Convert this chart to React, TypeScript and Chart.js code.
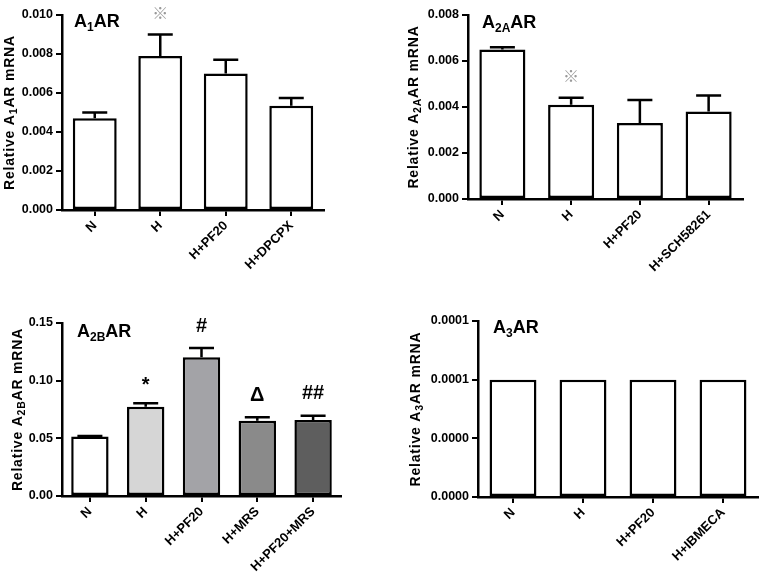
import React, { useEffect, useRef } from 'react';
import { Chart, registerables } from 'chart.js';

Chart.register(...registerables);

const FONT = '"Liberation Sans", Arial, Helvetica, sans-serif';

// ---------- Data ----------
// A1AR
const A1_CATEGORIES = ['N', 'H', 'H+PF20', 'H+DPCPX'];
const A1_VALUES = [0.0047, 0.0079, 0.007, 0.00535];
const A1_ERRORS = [0.0003, 0.0011, 0.0007, 0.0004];
const A1_MARKS = ['', '※', '', ''];
const A1_TICKS = [0, 0.002, 0.004, 0.006, 0.008, 0.01];
const A1_TICK_LABELS = ['0.000', '0.002', '0.004', '0.006', '0.008', '0.010'];

// A2AAR
const A2A_CATEGORIES = ['N', 'H', 'H+PF20', 'H+SCH58261'];
const A2A_VALUES = [0.0065, 0.0041, 0.0033, 0.0038];
const A2A_ERRORS = [0.0001, 0.0003, 0.001, 0.0007];
const A2A_MARKS = ['', '※', '', ''];
const A2A_TICKS = [0, 0.002, 0.004, 0.006, 0.008];
const A2A_TICK_LABELS = ['0.000', '0.002', '0.004', '0.006', '0.008'];

// A2BAR
const A2B_CATEGORIES = ['N', 'H', 'H+PF20', 'H+MRS', 'H+PF20+MRS'];
const A2B_VALUES = [0.0515, 0.0774, 0.1203, 0.0652, 0.0658];
const A2B_ERRORS = [0.0006, 0.003, 0.008, 0.003, 0.0038];
const A2B_MARKS = ['', '*', '#', 'Δ', '##'];
const A2B_TICKS = [0, 0.05, 0.1, 0.15];
const A2B_TICK_LABELS = ['0.00', '0.05', '0.10', '0.15'];

// A3AR
const A3_CATEGORIES = ['N', 'H', 'H+PF20', 'H+IBMECA'];
const A3_VALUES = [0.0001, 0.0001, 0.0001, 0.0001];
const A3_ERRORS = [0, 0, 0, 0];
const A3_MARKS = ['', '', '', ''];
const A3_TICKS = [0, 0.00005, 0.0001, 0.00015];
const A3_TICK_LABELS = ['0.0000', '0.0000', '0.0001', '0.0001'];

type Seg = { t: string; sub?: boolean };

interface PanelSpec {
  left: number;
  top: number;
  width: number;
  height: number;
  area: { l: number; r: number; t: number; b: number };
  categories: string[];
  values: number[];
  errors: number[];
  marks: string[];
  colors: string[];
  tickValues: number[];
  tickLabels: string[];
  title: Seg[];
  titleX: number;
  label: Seg[];
  labelX: number;
  labelY: number;
}

function drawRich(
  ctx: CanvasRenderingContext2D,
  segs: Seg[],
  x: number,
  y: number,
  size: number,
  subSize: number,
  subShift: number,
  centered: boolean,
  spacing: string
) {
  const font = (s: number) => `bold ${s}px ${FONT}`;
  (ctx as any).letterSpacing = spacing;
  let total = 0;
  const widths = segs.map((s) => {
    ctx.font = font(s.sub ? subSize : size);
    const w = ctx.measureText(s.t).width;
    total += w;
    return w;
  });
  let cx = centered ? x - total / 2 : x;
  segs.forEach((s, i) => {
    ctx.font = font(s.sub ? subSize : size);
    ctx.fillText(s.t, cx, y + (s.sub ? subShift : 0));
    cx += widths[i];
  });
  (ctx as any).letterSpacing = '0px';
}

function makeDecor(spec: PanelSpec) {
  return {
    id: 'decor',
    afterDatasetsDraw(chart: any) {
      const { ctx, chartArea } = chart;
      const meta = chart.getDatasetMeta(0);
      const ys = chart.scales.y;
      ctx.save();
      // error bars
      ctx.strokeStyle = '#000';
      ctx.lineWidth = 2.5;
      spec.errors.forEach((e, i) => {
        if (!e) return;
        const x = meta.data[i].x;
        const y0 = ys.getPixelForValue(spec.values[i]);
        const y1 = ys.getPixelForValue(spec.values[i] + e);
        ctx.beginPath();
        ctx.moveTo(x, y0);
        ctx.lineTo(x, y1);
        ctx.moveTo(x - 12.5, y1);
        ctx.lineTo(x + 12.5, y1);
        ctx.stroke();
      });
      // significance marks
      ctx.textAlign = 'center';
      ctx.textBaseline = 'middle';
      spec.marks.forEach((m, i) => {
        if (!m) return;
        const x = meta.data[i].x;
        const yTop = ys.getPixelForValue(spec.values[i] + spec.errors[i]);
        let y = yTop - 22;
        if (m === '※') {
          ctx.font = `16px "Noto Sans CJK SC", "DejaVu Sans", sans-serif`;
          ctx.fillStyle = '#9a9a9a';
        } else {
          ctx.font = `bold 20px ${FONT}`;
          ctx.fillStyle = '#000';
          if (m === '*') y += 4;
        }
        ctx.fillText(m, x, y);
      });
      // y-axis title (rotated)
      ctx.fillStyle = '#000';
      ctx.save();
      ctx.translate(spec.titleX, (chartArea.top + chartArea.bottom) / 2);
      ctx.rotate(-Math.PI / 2);
      ctx.textAlign = 'left';
      ctx.textBaseline = 'middle';
      drawRich(ctx, spec.title, 0, 0, 14, 10.5, 4, true, '0.8px');
      ctx.restore();
      // panel label
      ctx.textAlign = 'left';
      ctx.textBaseline = 'alphabetic';
      drawRich(ctx, spec.label, spec.labelX, spec.labelY, 18, 12, 4, false, '0px');
      ctx.restore();
    },
  };
}

const tickFont = { family: FONT, size: 12.5, weight: 'bold' as const };

function Panel({ spec }: { spec: PanelSpec }) {
  const ref = useRef<HTMLCanvasElement | null>(null);
  useEffect(() => {
    if (!ref.current) return;
    const { area, width, height } = spec;
    const gridCommon = {
      drawOnChartArea: false,
      drawTicks: true,
      tickLength: 6,
      color: '#000',
      lineWidth: 2,
    };
    const chart = new Chart(ref.current, {
      type: 'bar',
      data: {
        labels: spec.categories,
        datasets: [
          {
            data: spec.values,
            backgroundColor: spec.colors,
            borderColor: '#000',
            borderWidth: 2.5,
            borderSkipped: false,
            barPercentage: 0.67,
            categoryPercentage: 1,
          },
        ],
      },
      options: {
        responsive: false,
        animation: false,
        events: [],
        layout: { padding: { left: 0, top: area.t, right: width - area.r, bottom: 0 } },
        plugins: { legend: { display: false }, tooltip: { enabled: false } },
        scales: {
          x: {
            type: 'category',
            offset: true,
            grid: { ...gridCommon, offset: false },
            border: { color: '#000', width: 2.5 },
            ticks: {
              font: { family: FONT, size: 13, weight: 'bold' },
              color: '#000',
              maxRotation: 45,
              minRotation: 45,
              autoSkip: false,
              padding: 2,
            },
            afterFit: (s: any) => {
              s.height = height - area.b;
            },
          },
          y: {
            min: spec.tickValues[0],
            max: spec.tickValues[spec.tickValues.length - 1],
            afterBuildTicks: (s: any) => {
              s.ticks = spec.tickValues.map((v) => ({ value: v }));
            },
            grid: gridCommon,
            border: { color: '#000', width: 2.5 },
            ticks: {
              font: tickFont,
              color: '#000',
              padding: 3,
              callback: (_v: any, i: number) => spec.tickLabels[i],
            },
            afterFit: (s: any) => {
              s.width = area.l;
            },
          },
        },
      } as any,
      plugins: [makeDecor(spec)],
    });
    return () => chart.destroy();
  }, [spec]);
  return (
    <canvas
      ref={ref}
      width={spec.width}
      height={spec.height}
      style={{
        position: 'absolute',
        left: spec.left,
        top: spec.top,
        width: spec.width,
        height: spec.height,
      }}
    />
  );
}

const title = (sub: string): Seg[] => [{ t: 'Relative A' }, { t: sub, sub: true }, { t: 'AR mRNA' }];
const label = (sub: string): Seg[] => [{ t: 'A' }, { t: sub, sub: true }, { t: 'AR' }];

const white = (n: number) => Array(n).fill('#ffffff');

const PANELS: PanelSpec[] = [
  {
    left: 0, top: 0, width: 382, height: 288,
    area: { l: 62, r: 324, t: 15, b: 210 },
    categories: A1_CATEGORIES, values: A1_VALUES, errors: A1_ERRORS, marks: A1_MARKS,
    colors: white(4), tickValues: A1_TICKS, tickLabels: A1_TICK_LABELS,
    title: title('1'), titleX: 10, label: label('1'), labelX: 74, labelY: 27,
  },
  {
    left: 382, top: 0, width: 382, height: 288,
    area: { l: 86, r: 361, t: 15, b: 199 },
    categories: A2A_CATEGORIES, values: A2A_VALUES, errors: A2A_ERRORS, marks: A2A_MARKS,
    colors: white(4), tickValues: A2A_TICKS, tickLabels: A2A_TICK_LABELS,
    title: title('2A'), titleX: 32, label: label('2A'), labelX: 100, labelY: 28,
  },
  {
    left: 0, top: 288, width: 382, height: 289,
    area: { l: 62, r: 341, t: 35, b: 208 },
    categories: A2B_CATEGORIES, values: A2B_VALUES, errors: A2B_ERRORS, marks: A2B_MARKS,
    colors: ['#ffffff', '#d6d6d6', '#a3a3a7', '#8a8a8a', '#5e5e5e'],
    tickValues: A2B_TICKS, tickLabels: A2B_TICK_LABELS,
    title: title('2B'), titleX: 18, label: label('2B'), labelX: 77, labelY: 49,
  },
  {
    left: 382, top: 288, width: 382, height: 289,
    area: { l: 96, r: 376, t: 33, b: 209 },
    categories: A3_CATEGORIES, values: A3_VALUES, errors: A3_ERRORS, marks: A3_MARKS,
    colors: white(4), tickValues: A3_TICKS, tickLabels: A3_TICK_LABELS,
    title: title('3'), titleX: 34, label: label('3'), labelX: 111, labelY: 45,
  },
];

export default function App() {
  return (
    <div
      style={{
        position: 'absolute',
        left: 0,
        top: 0,
        width: 764,
        height: 577,
        background: '#ffffff',
        overflow: 'hidden',
      }}
    >
      {PANELS.map((p, i) => (
        <Panel key={i} spec={p} />
      ))}
    </div>
  );
}
